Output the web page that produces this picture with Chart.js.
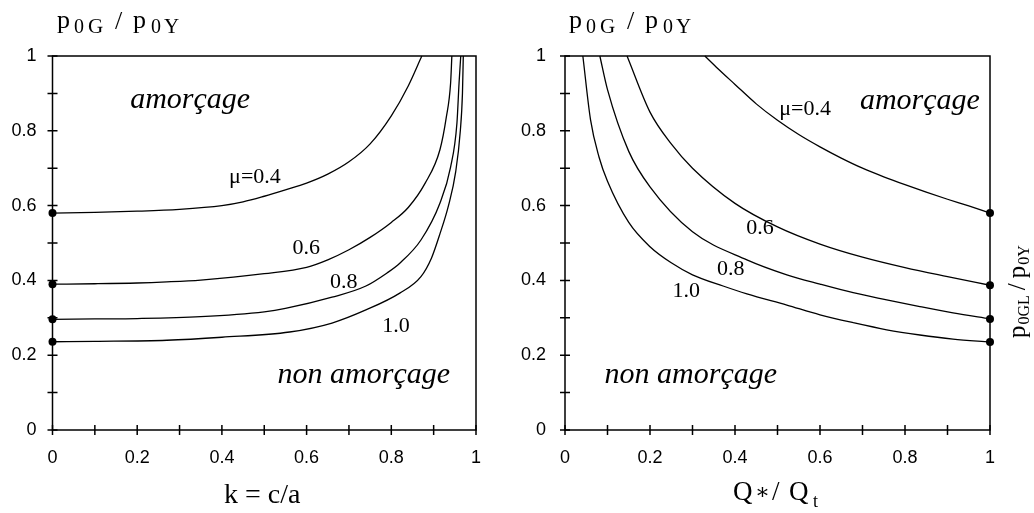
<!DOCTYPE html>
<html lang="fr">
<head>
<meta charset="UTF-8">
<title>p0G / p0Y</title>
<script src="https://cdn.jsdelivr.net/npm/chart.js"></script>
<style>
  body { margin: 0; background: #fff; }
  #wrap { position: relative; width: 1034px; height: 513px; }
  canvas { position: absolute; top: 0; }
</style>
</head>
<body>
<div id="wrap">
  <canvas id="left" width="517" height="513" style="left:0"></canvas>
  <canvas id="right" width="517" height="513" style="left:517px"></canvas>
</div>
<script>
// left panel : k = c/a
const kMu04 = [0, 0.1, 0.2, 0.3, 0.4, 0.45, 0.5, 0.55, 0.6, 0.65, 0.7, 0.75, 0.8, 0.84, 0.872];
const pMu04 = [0.58, 0.582, 0.585, 0.59, 0.6, 0.61, 0.625, 0.642, 0.66, 0.684, 0.717, 0.765, 0.84, 0.92, 1.0];
const kMu06 = [0, 0.1, 0.2, 0.27, 0.35, 0.5, 0.6, 0.65, 0.7, 0.75, 0.8, 0.84, 0.88, 0.915, 0.93, 0.94, 0.943];
const pMu06 = [0.39, 0.391, 0.393, 0.396, 0.401, 0.418, 0.435, 0.455, 0.482, 0.515, 0.555, 0.595, 0.66, 0.75, 0.837, 0.927, 1.0];
const kMu08 = [0, 0.1, 0.2, 0.35, 0.5, 0.55, 0.66, 0.74, 0.79, 0.82, 0.87, 0.915, 0.94, 0.955, 0.96, 0.964];
const pMu08 = [0.296, 0.297, 0.298, 0.303, 0.316, 0.325, 0.355, 0.385, 0.42, 0.446, 0.508, 0.607, 0.703, 0.821, 0.928, 1.0];
const kMu10 = [0, 0.1, 0.27, 0.4, 0.56, 0.66, 0.74, 0.82, 0.87, 0.895, 0.915, 0.935, 0.952, 0.963, 0.968, 0.97];
const pMu10 = [0.236, 0.237, 0.24, 0.248, 0.262, 0.286, 0.321, 0.366, 0.41, 0.46, 0.525, 0.6, 0.69, 0.8, 0.9, 1.0];

// right panel : Q*/Qt
const qMu04 = [0.329, 0.36, 0.4, 0.45, 0.5, 0.55, 0.6, 0.65, 0.7, 0.75, 0.8, 0.85, 0.9, 0.95, 1.0];
const rMu04 = [1.0, 0.966, 0.924, 0.872, 0.828, 0.79, 0.757, 0.727, 0.7, 0.677, 0.656, 0.636, 0.617, 0.599, 0.58];
const qMu06 = [0.146, 0.2, 0.25, 0.3, 0.4, 0.5, 0.6, 0.7, 0.8, 0.9, 1.0];
const rMu06 = [1.0, 0.85, 0.765, 0.70, 0.606, 0.543, 0.497, 0.462, 0.434, 0.41, 0.387];
const qMu08 = [0.082, 0.1, 0.15, 0.2, 0.3, 0.428, 0.522, 0.6, 0.678, 0.757, 0.835, 0.913, 1.0];
const rMu08 = [1.0, 0.91, 0.745, 0.65, 0.53, 0.455, 0.415, 0.39, 0.367, 0.348, 0.33, 0.313, 0.297];
const qMu10 = [0.042, 0.06, 0.08, 0.1, 0.15, 0.2, 0.25, 0.3, 0.372, 0.428, 0.522, 0.6, 0.678, 0.757, 0.835, 0.913, 1.0];
const rMu10 = [1.0, 0.83, 0.73, 0.665, 0.555, 0.49, 0.447, 0.415, 0.385, 0.364, 0.334, 0.308, 0.287, 0.268, 0.254, 0.243, 0.235];

const muLabels = ['μ=0.4', '0.6', '0.8', '1.0'];
const tickLabels = ['0', '0.2', '0.4', '0.6', '0.8', '1'];

const SERIF = '"Liberation Serif", "DejaVu Serif", serif';
const SANS = '"Liberation Sans", Arial, sans-serif';

function pts(xs, ys) { return xs.map((x, i) => ({ x: x, y: ys[i] })); }

function fmtTick(v) {
  const n = Math.round(v * 10);
  return n % 2 === 0 ? tickLabels[n / 2] : '';
}

// frame, crossing ticks and the in-plot texts
const decor = {
  id: 'decor',
  afterDraw(chart, args, opts) {
    const { ctx, chartArea: a, scales } = chart;
    const xs = scales.x, ys = scales.y;
    ctx.save();
    ctx.strokeStyle = '#000';
    ctx.lineWidth = 1.5;
    ctx.strokeRect(a.left, a.top, a.right - a.left, a.bottom - a.top);
    ctx.beginPath();
    xs.ticks.forEach(t => {
      const px = xs.getPixelForValue(t.value);
      ctx.moveTo(px, a.bottom - 5); ctx.lineTo(px, a.bottom + 5);
    });
    ys.ticks.forEach(t => {
      const py = ys.getPixelForValue(t.value);
      ctx.moveTo(a.left - 5, py); ctx.lineTo(a.left + 5, py);
    });
    ctx.stroke();

    ctx.fillStyle = '#000';
    ctx.textBaseline = 'alphabetic';
    (opts.texts || []).forEach(t => {
      ctx.font = t.font;
      ctx.textAlign = 'center';
      ctx.fillText(t.text, xs.getPixelForValue(t.x), ys.getPixelForValue(t.y));
    });
    // pieces of titles, in canvas pixels
    ctx.textAlign = 'left';
    (opts.pieces || []).forEach(p => {
      ctx.font = p.font;
      ctx.fillText(p.text, p.x, p.y);
    });
    if (opts.rotated) {
      ctx.translate(opts.rotated.x, opts.rotated.y);
      ctx.rotate(-Math.PI / 2);
      let cx = 0;
      opts.rotated.parts.forEach(p => {
        ctx.font = p.font;
        ctx.fillText(p.text, cx, p.dy);
        cx += ctx.measureText(p.text).width + (p.gap || 0);
      });
    }
    ctx.restore();
  }
};

function lineSet(data, dotIndex) {
  return {
    data: data,
    borderColor: '#000',
    borderWidth: 1.3,
    backgroundColor: '#000',
    pointBackgroundColor: '#000',
    pointBorderWidth: 0,
    pointRadius: c => (c.dataIndex === (dotIndex < 0 ? data.length - 1 : dotIndex) ? 4 : 0),
    cubicInterpolationMode: 'monotone',
    clip: false
  };
}

function makeChart(id, datasets, yWidth, padRight, yPad, decorOpts) {
  return new Chart(document.getElementById(id), {
    type: 'line',
    data: { datasets: datasets },
    options: {
      responsive: false,
      animation: false,
      devicePixelRatio: 1,
      layout: { padding: { left: 0, top: 56, right: padRight, bottom: 0 } },
      plugins: { legend: { display: false }, tooltip: { enabled: false }, decor: decorOpts },
      scales: {
        x: {
          type: 'linear', min: 0, max: 1,
          grid: { display: false, drawTicks: false },
          border: { display: false },
          ticks: { stepSize: 0.1, autoSkip: false, maxRotation: 0, padding: 17, color: '#000',
                   font: { family: SANS, size: 18 }, callback: fmtTick },
          afterFit: s => { s.height = 83; }
        },
        y: {
          type: 'linear', min: 0, max: 1,
          grid: { display: false, drawTicks: false },
          border: { display: false },
          ticks: { stepSize: 0.1, autoSkip: false, padding: yPad, color: '#000',
                   font: { family: SANS, size: 18 }, callback: fmtTick },
          afterFit: s => { s.width = yWidth; }
        }
      }
    },
    plugins: [decor]
  });
}

const italic = 'italic 30px ' + SERIF;
const muFont = '22px ' + SERIF;

function titlePieces(dx) {
  return [
    { text: 'p', x: 57 + dx, y: 28, font: '26px ' + SERIF },
    { text: '0', x: 74 + dx, y: 33, font: '20px ' + SERIF },
    { text: 'G', x: 88 + dx, y: 33, font: '21px ' + SERIF },
    { text: '/', x: 115 + dx, y: 29, font: '26px ' + SERIF },
    { text: 'p', x: 133 + dx, y: 28, font: '26px ' + SERIF },
    { text: '0', x: 151 + dx, y: 33, font: '20px ' + SERIF },
    { text: 'Y', x: 164 + dx, y: 33, font: '21px ' + SERIF }
  ];
}

makeChart('left', [
  lineSet(pts(kMu04, pMu04), 0),
  lineSet(pts(kMu06, pMu06), 0),
  lineSet(pts(kMu08, pMu08), 0),
  lineSet(pts(kMu10, pMu10), 0)
], 52.5, 41, 16, {
  texts: [
    { text: 'amorçage', x: 0.325, y: 0.861, font: italic },
    { text: 'non amorçage', x: 0.735, y: 0.126, font: italic },
    { text: muLabels[0], x: 0.478, y: 0.66, font: muFont },
    { text: muLabels[1], x: 0.599, y: 0.471, font: muFont },
    { text: muLabels[2], x: 0.688, y: 0.38, font: muFont },
    { text: muLabels[3], x: 0.811, y: 0.262, font: muFont }
  ],
  pieces: titlePieces(0).concat([
    { text: 'k = c/a', x: 224, y: 503, font: '28px ' + SERIF }
  ])
});

makeChart('right', [
  lineSet(pts(qMu04, rMu04), -1),
  lineSet(pts(qMu06, rMu06), -1),
  lineSet(pts(qMu08, rMu08), -1),
  lineSet(pts(qMu10, rMu10), -1)
], 48, 44, 19, {
  texts: [
    { text: 'amorçage', x: 0.835, y: 0.858, font: italic },
    { text: 'non amorçage', x: 0.296, y: 0.126, font: italic },
    { text: muLabels[0], x: 0.565, y: 0.842, font: muFont },
    { text: muLabels[1], x: 0.459, y: 0.525, font: muFont },
    { text: muLabels[2], x: 0.39, y: 0.414, font: muFont },
    { text: muLabels[3], x: 0.285, y: 0.356, font: muFont }
  ],
  pieces: titlePieces(512 - 517).concat([
    { text: 'Q', x: 733 - 517, y: 500, font: '27px ' + SERIF },
    { text: '∗', x: 755 - 517, y: 499, font: '22px ' + SERIF },
    { text: '/', x: 772 - 517, y: 500, font: '27px ' + SERIF },
    { text: 'Q', x: 789 - 517, y: 500, font: '27px ' + SERIF },
    { text: 't', x: 813 - 517, y: 507, font: '18px ' + SERIF }
  ]),
  rotated: {
    x: 1025 - 517, y: 338,
    parts: [
      { text: 'p', dy: 0, font: '25px ' + SERIF, gap: 1 },
      { text: '0GL', dy: 4, font: '16px ' + SERIF, gap: 5 },
      { text: '/', dy: 0, font: '25px ' + SERIF, gap: 5 },
      { text: 'p', dy: 0, font: '25px ' + SERIF, gap: 1 },
      { text: '0Y', dy: 4, font: '16px ' + SERIF }
    ]
  }
});
</script>
</body>
</html>
